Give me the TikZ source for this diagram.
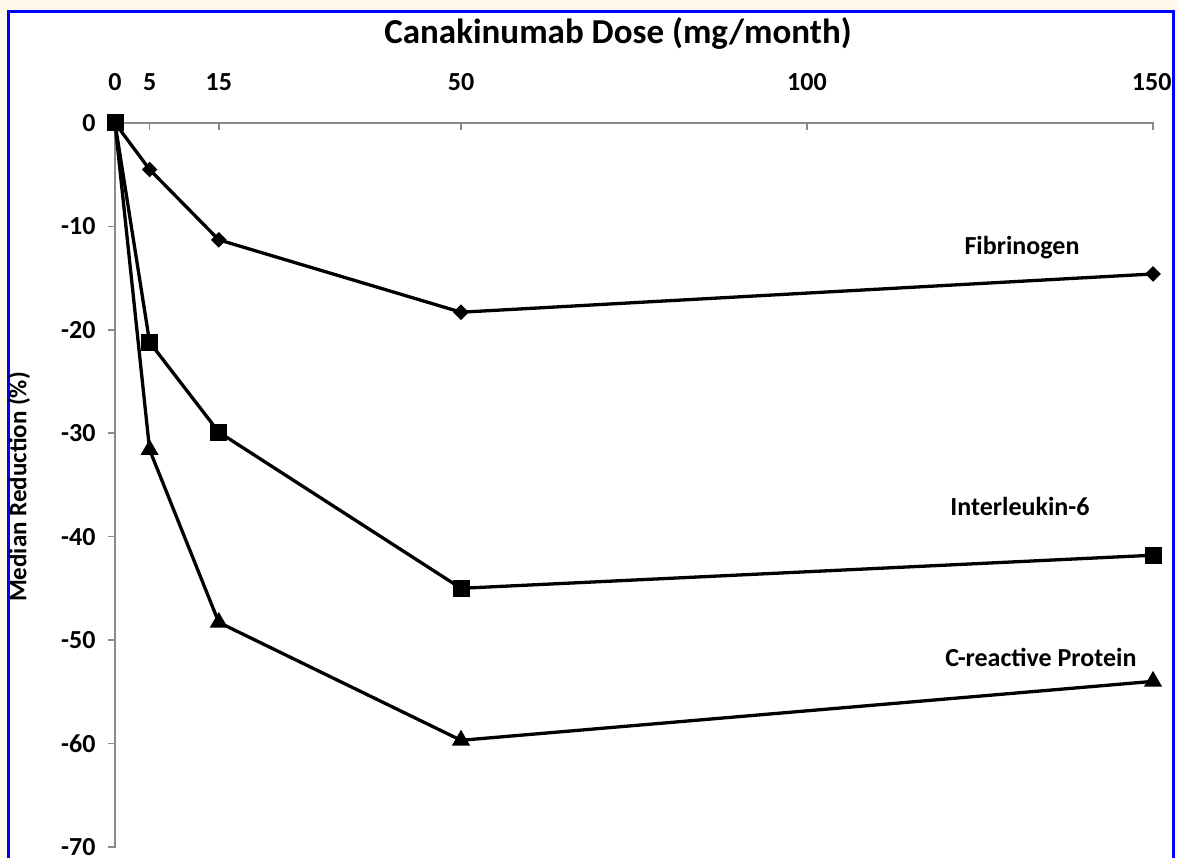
\documentclass[tikz,border=0pt]{standalone}
\usepackage{fontspec}
\setmainfont{Carlito}
\usepackage{xcolor}
\definecolor{bgcream}{HTML}{FFFAEC}
\definecolor{framecolor}{HTML}{0000FF}
\definecolor{axiscolor}{HTML}{8A8A8A}
\usepackage{tikz}
\usetikzlibrary{%
    calc,
    math,
    shapes.geometric % 菱形和三角形
}
\tikzset{
    series/.style={line width=3.3pt, black, line join=round},
    fibmark/.style={diamond, fill=black, inner sep=0pt, minimum size=16pt},
    ilmark/.style={rectangle, fill=black, inner sep=0pt, minimum size=17pt},
    crpmark/.style={regular polygon, regular polygon sides=3, fill=black, inner sep=0pt, minimum size=21pt},
    ticklabel/.style={font=\fontsize{26}{30}\selectfont\bfseries, inner sep=1pt},
}

\begin{document}
\begin{tikzpicture}[x=1pt, y=1pt, line width=1pt]
    \tikzmath{%
        % 原点 (像素)
        \ox=115;
        \oy=-123;
        % 每单位的长度
        \sx=6.92;
        \sy=10.34;
        \ticklen=7;
    };

    % 背景和蓝框
    \useasboundingbox (0, 0) rectangle (1178, -858);
    \fill [bgcream] (0, 0) rectangle (1178, -858);
    \fill [white] (8, -12) rectangle (1173, -858);
    \draw [framecolor, line width=3pt] (8, -870) |- (1173, -12) -- (1173, -870);

    \coordinate (O) at (\ox, \oy);

    % axes
    \draw [axiscolor, line width=1.5pt] (O) -- ++(150*\sx, 0) -- ++(0, -\ticklen);
    \draw [axiscolor, line width=1.5pt] (O) -- ++(0, -70*\sy) -- ++(-\ticklen, 0);
    \foreach \d in {5, 15, 50, 100} {%
            \draw [axiscolor, line width=1.5pt] ($ (O) + (\d*\sx, 0) $) -- ++(0, -\ticklen);
        }
    \foreach \v in {10, 20, ..., 60} {%
            \draw [axiscolor, line width=1.5pt] ($ (O) + (0, -\v*\sy) $) -- ++(-\ticklen, 0);
        }

    % 刻度
    \foreach \d in {0, 5, 15, 50, 100} {%
            \node (xtick\d) [ticklabel] at (\ox+\d*\sx, -82) {\d};
        }
    \node (xtick150) [ticklabel, anchor=east] at (1173, -82) {150};
    \foreach \v in {0, 10, 20, ..., 70} {%
            \node (ytick\v) [ticklabel, anchor=east] at (97, \oy-\v*\sy) {\ifnum\v=0 0\else -\v\fi};
        }

    % 标题
    \node (title) at (618, -33) {\fontsize{35}{40}\selectfont\bfseries Canakinumab Dose (mg/month)};
    \node (ylabel) [rotate=90] at (19, -487) {\fontsize{25}{29}\selectfont\bfseries Median Reduction (\%)};

    % 数据点
    \foreach \d/\v [count=\i] in {0/0, 5/-4.5, 15/-11.3, 50/-18.3, 150/-14.6} {%
            \coordinate (fib\i) at (\ox+\sx*\d, \oy+\sy*\v);
        }
    \foreach \d/\v [count=\i] in {0/0, 5/-21.2, 15/-29.9, 50/-45.0, 150/-41.8} {%
            \coordinate (il\i) at (\ox+\sx*\d, \oy+\sy*\v);
        }
    \foreach \d/\v [count=\i] in {0/0, 5/-31.6, 15/-48.3, 50/-59.7, 150/-54.0} {%
            \coordinate (crp\i) at (\ox+\sx*\d, \oy+\sy*\v);
        }

    % 曲线
    \draw [series] (fib1) -- (fib2) -- (fib3) -- (fib4) -- (fib5);
    \draw [series] (il1) -- (il2) -- (il3) -- (il4) -- (il5);
    \draw [series] (crp1) -- (crp2) -- (crp3) -- (crp4) -- (crp5);

    % 标记
    \foreach \i in {2, ..., 5} {%
            \node (fibm\i) [fibmark] at (fib\i) {};
            \node (crpm\i) [crpmark] at (crp\i) {};
            \node (ilm\i) [ilmark] at (il\i) {};
        }
    \node (ilm1) [ilmark] at (il1) {};

    % 曲线名称
    \node (fiblabel) [ticklabel] at (1022, -248) {Fibrinogen};
    \node (illabel) [ticklabel] at (1020, -506) {Interleukin-6};
    \node (crplabel) [ticklabel] at (1041, -657) {C-reactive Protein};
\end{tikzpicture}
\end{document}
